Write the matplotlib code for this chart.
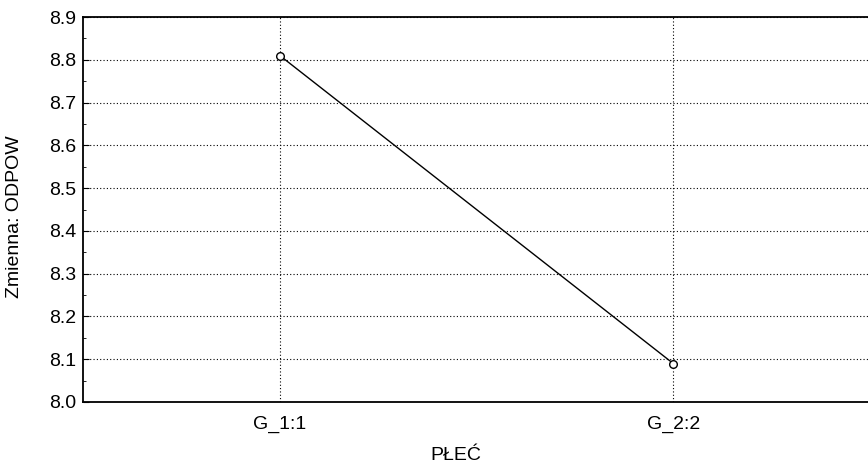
import matplotlib
matplotlib.use("Agg")
import matplotlib.pyplot as plt
from matplotlib.ticker import MultipleLocator

categories = ["G_1:1", "G_2:2"]
values = [8.81, 8.09]
yticks = [8.0, 8.1, 8.2, 8.3, 8.4, 8.5, 8.6, 8.7, 8.8, 8.9]

plt.rcParams['font.family'] = ['Liberation Sans', 'DejaVu Sans']

fig = plt.figure(figsize=(8.68, 4.72), dpi=100)
L, R, T, B = 83, 870, 17, 402
ax = fig.add_axes([L/868, (472-B)/472, (R-L)/868, (B-T)/472])
W, H = R - L, B - T

x = list(range(len(categories)))
ax.plot(x, values, color='black', lw=1.0, marker='o', ms=5.5,
        markerfacecolor='white', markeredgecolor='black', markeredgewidth=1.0, zorder=3)

ax.set_xlim(-0.5, 1.5)
ax.set_ylim(8.0, 8.9)
ax.set_xticks(x)
ax.set_xticklabels(categories, fontsize=14)
ax.set_yticks(yticks)
ax.set_yticklabels([f"{v:.1f}" for v in yticks], fontsize=14)
ax.yaxis.set_minor_locator(MultipleLocator(0.05))
ax.tick_params(axis='y', direction='in', length=4, width=0.8, pad=5)
ax.tick_params(axis='y', which='minor', direction='in', length=2, width=0.6)
ax.tick_params(axis='x', direction='in', length=0, pad=10)

ax.grid(True, which='major', linestyle=(0, (1, 2)), color='black', lw=0.8)
ax.set_axisbelow(True)
for s in ['left', 'top', 'bottom']:
    ax.spines[s].set_linewidth(1.3)
ax.spines['right'].set_visible(False)

ax.set_xlabel("PŁEĆ", fontsize=14)
ax.xaxis.set_label_coords((456-L)/W, -(447-B)/H)
ax.set_ylabel("Zmienna: ODPOW", fontsize=14)
ax.yaxis.set_label_coords(-(L-23)/W, (B-217)/H)

fig.savefig("out.png", dpi=100)
